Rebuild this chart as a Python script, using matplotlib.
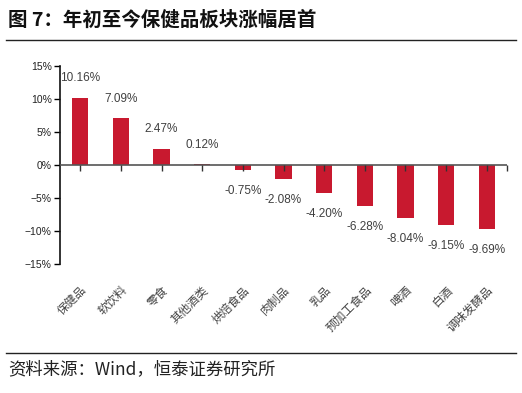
import numpy as np
import matplotlib
matplotlib.use('Agg')
import matplotlib.pyplot as plt
from matplotlib.lines import Line2D

plt.rcParams['font.family'] = ['Liberation Sans', 'Noto Sans CJK SC', 'DejaVu Sans']
plt.rcParams['axes.unicode_minus'] = True

# data
cats = ['保健品', '软饮料', '零食', '其他酒类', '烘焙食品', '肉制品', '乳品',
        '预加工食品', '啤酒', '白酒', '调味发酵品']
vals = [10.16, 7.09, 2.47, 0.12, -0.75, -2.08, -4.20, -6.28, -8.04, -9.15, -9.69]
yticks = [-15, -10, -5, 0, 5, 10, 15]

bar_color = '#C8192F'
cjk = ['Noto Sans CJK SC', 'DejaVu Sans']

fig = plt.figure(figsize=(5.22, 3.93), dpi=100)
ax = fig.add_axes([60/522, 1-264/393, 447/522, 198/393])

x = np.arange(len(cats))
ax.bar(x, vals, width=0.4, color=bar_color, zorder=2)
ax.axhline(0, color='#555555', lw=1.2, zorder=3)
ax.plot(x, np.zeros(len(x)), linestyle='none', marker=3, markersize=4,
        color='#333333', markeredgewidth=1, zorder=4, clip_on=False)
ax.plot([len(x) - 0.5], [0], linestyle='none', marker=3, markersize=4,
        color='#333333', markeredgewidth=1, zorder=4, clip_on=False)

for xi, v in zip(x, vals):
    off = 14 if v >= 0 else -15
    ax.annotate(f'{v:.2f}%', (xi, v), xytext=(0, off), textcoords='offset points',
                ha='center', va='center', fontsize=8.5, color='#404040')

ax.set_xlim(-0.5, len(x) - 0.5)
ax.set_ylim(-15, 15)
ax.set_yticks(yticks)
ax.set_yticklabels([f'{t}%'.replace('-', '\u2212') for t in yticks],
                   fontsize=7.5, color='#222222')
ax.tick_params(axis='y', direction='out', length=4, width=1, pad=2)

ax.set_xticks(x)
ax.set_xticklabels(cats, rotation=45, ha='right', va='top', family=cjk,
                   fontsize=8.5, color='#444444', rotation_mode='anchor')
ax.tick_params(axis='x', length=0, pad=14)

for s in ['top', 'right', 'bottom']:
    ax.spines[s].set_visible(False)
ax.spines['left'].set_linewidth(1.2)
ax.spines['left'].set_color('#111111')

# title and source
fig.text(8/522, 1-20/393, '图 7：年初至今保健品板块涨幅居首', family=cjk,
         fontsize=14, fontweight='bold', va='center', ha='left', color='#111111')
fig.add_artist(Line2D([6/522, 516/522], [1-40/393, 1-40/393], color='#222222', lw=1))
fig.add_artist(Line2D([6/522, 516/522], [1-353/393, 1-353/393], color='#222222', lw=1))
fig.text(8/522, 1-369/393, '资料来源：Wind，恒泰证券研究所', family=cjk,
         fontsize=12.5, style='italic', va='center', ha='left', color='#222222')

fig.savefig('out.png', dpi=100)
